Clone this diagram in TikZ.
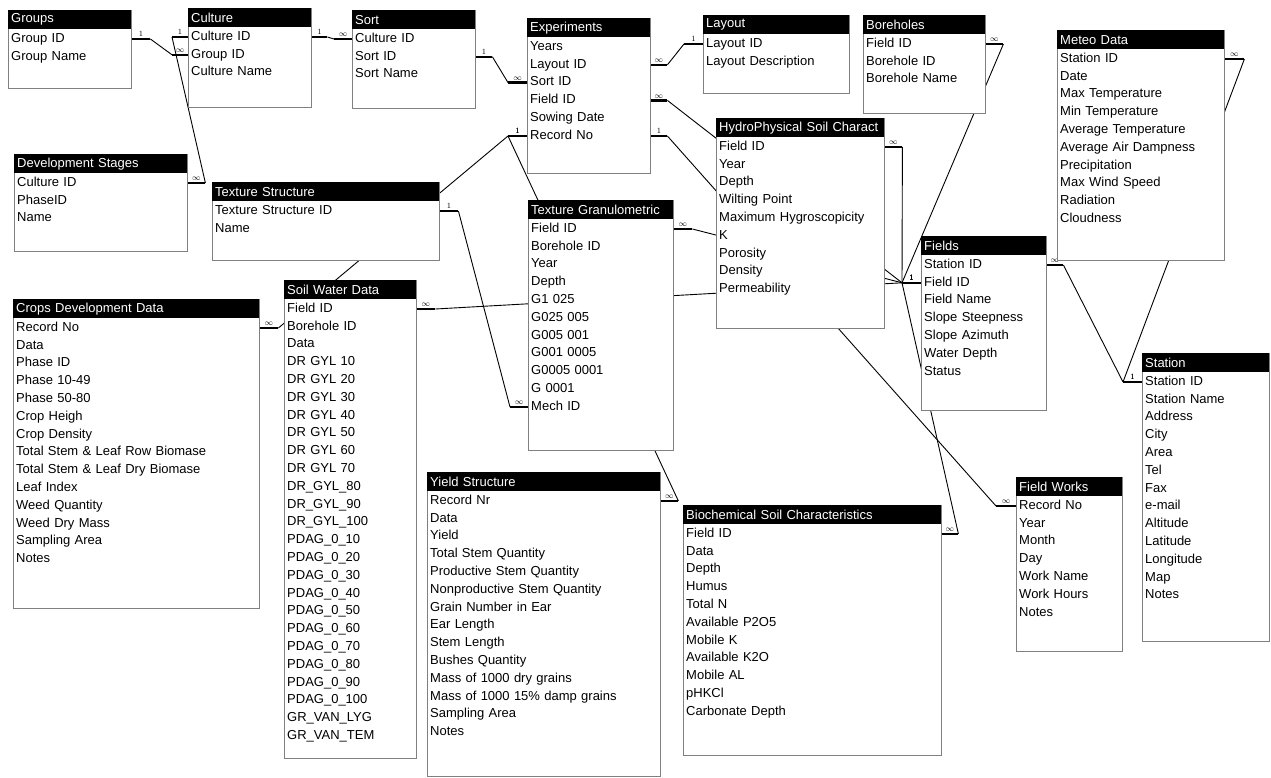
\documentclass[tikz,border=0pt]{standalone}
\usepackage{fontspec}
\setmainfont{Liberation Sans}
\usetikzlibrary{backgrounds}

\begin{document}
\begin{tikzpicture}
[x=1pt,y=-1pt,font=\fontsize{13}{14}\selectfont,
  tableBody/.style={draw=black!50,line width=1.2pt,fill=white,inner sep=0pt,anchor=north west},%
  tableHead/.style={fill=black,text=white,inner xsep=0pt,inner ysep=0pt,minimum height=19pt,anchor=north west,align=left},%
  tableField/.style={inner xsep=0pt,inner ysep=0pt,text height=9.5pt,text depth=3pt,anchor=west,align=left},%
  relStub/.style={line width=2.4pt},%
  relLine/.style={line width=0.9pt},%
  relLabel/.style={above,inner sep=1pt,font=\fontsize{8}{8}\selectfont}]
\useasboundingbox (0,0) rectangle (1271,778);
%% tables: name/x/y/width/height/title/fields
\foreach \name/\x/\y/\w/\h/\title/\fields in {
  groups/8/10/123/78/Groups/{Group ID,Group Name},
  culture/188/8/123/99/Culture/{Culture ID,Group ID,Culture Name},
  sort/352/10/123/98/Sort/{Culture ID,Sort ID,Sort Name},
  experiments/527/18/123/155/Experiments/{Years,Layout ID,Sort ID,Field ID,Sowing Date,Record No},
  layout/703/15/146/78/Layout/{Layout ID,Layout Description},
  boreholes/863/15/122/98/Boreholes/{Field ID,Borehole ID,Borehole Name},
  meteo/1057/30/167/230/Meteo Data/{Station ID,Date,Max Temperature,Min Temperature,Average Temperature,Average Air Dampness,Precipitation,Max Wind Speed,Radiation,Cloudness},
  devstages/14/154/173/97/Development Stages/{Culture ID,PhaseID,Name},
  texstruct/212/182/227/78/Texture Structure/{Texture Structure ID,Name},
  texgran/528/200/145/250/Texture Granulometric/{Field ID,Borehole ID,Year,Depth,G1 025,G025 005,G005 001,G001 0005,G0005 0001,G 0001,Mech ID},
  hydro/716/118/168/210/HydroPhysical Soil Charact/{Field ID,Year,Depth,Wilting Point,Maximum Hygroscopicity,K,Porosity,Density,Permeability},
  fields/921/236/125/174/Fields/{Station ID,Field ID,Field Name,Slope Steepness,Slope Azimuth,Water Depth,Status},
  crops/13/299/246/309/Crops Development Data/{Record No,Data,Phase ID,Phase 10-49,Phase 50-80,Crop Heigh,Crop Density,Total Stem \& Leaf Row Biomase,Total Stem \& Leaf Dry Biomase,Leaf Index,Weed Quantity,Weed Dry Mass,Sampling Area,Notes},
  soilwater/284/280/132/478/Soil Water Data/{Field ID,Borehole ID,Data,DR GYL 10,DR GYL 20,DR GYL 30,DR GYL 40,DR GYL 50,DR GYL 60,DR GYL 70,DR\_GYL\_80,DR\_GYL\_90,DR\_GYL\_100,PDAG\_0\_10,PDAG\_0\_20,PDAG\_0\_30,PDAG\_0\_40,PDAG\_0\_50,PDAG\_0\_60,PDAG\_0\_70,PDAG\_0\_80,PDAG\_0\_90,PDAG\_0\_100,GR\_VAN\_LYG,GR\_VAN\_TEM},
  yield/427/472/233/304/Yield Structure/{Record Nr,Data,Yield,Total Stem Quantity,Productive Stem Quantity,Nonproductive Stem Quantity,Grain Number in Ear,Ear Length,Stem Length,Bushes Quantity,Mass of 1000 dry grains,Mass of 1000 15\% damp grains,Sampling Area,Notes},
  biochem/683/505/258/250/Biochemical Soil Characteristics/{Field ID,Data,Depth,Humus,Total N,Available P2O5,Mobile K,Available K2O,Mobile AL,pHKCl,Carbonate Depth},
  fieldworks/1016/477/106/174/Field Works/{Record No,Year,Month,Day,Work Name,Work Hours,Notes},
  station/1142/353/127/288/Station/{Station ID,Station Name,Address,City,Area,Tel,Fax,e-mail,Altitude,Latitude,Longitude,Map,Notes}}
{
  \node[tableBody,minimum width=\w pt,minimum height=\h pt] (\name) at (\x,\y) {};
  \node[tableHead,text width=\w pt] (\name-h) at (\name.north west) {\hspace*{3pt}\title};
  \foreach \f [count=\i] in \fields
  {
    \pgfmathsetmacro{\rowy}{29+17.8*(\i-1)}
    \node[tableField,text width=\w pt] (\name-\i) at ([yshift=-\rowy pt]\name.north west) {\hspace*{3pt}\f};
  }
}
%% relationships, drawn behind the tables
\begin{scope}[on background layer]
\foreach \from/\fs/\fl/\to/\ts/\tl in {
  groups-1.east/19/1/culture-2.west/-16/\infty,
  culture-1.west/-16/1/devstages-1.east/18/\infty,
  culture-1.east/16/1/sort-1.west/-18/\infty,
  sort-2.east/17/1/experiments-3.west/-19/\infty,
  experiments-2.east/17/\infty/layout-1.west/-19/1,
  experiments-4.east/17/\infty/fields-2.west/-19/1,
  experiments-6.east/17/1/fieldworks-1.west/-20/\infty,
  experiments-6.west/-19/1/crops-1.east/19/\infty,
  experiments-6.west/-19/1/yield-1.east/18/\infty,
  texstruct-1.east/19/1/texgran-11.west/-18/\infty,
  soilwater-1.east/19/\infty/fields-2.west/-19/1,
  texgran-1.east/19/\infty/fields-2.west/-19/1,
  hydro-1.east/18/\infty/fields-2.west/-19/1,
  boreholes-1.east/18/\infty/fields-2.west/-19/1,
  biochem-1.east/17/\infty/fields-2.west/-19/1,
  meteo-1.east/20/\infty/station-1.west/-19/1,
  fields-1.east/17/\infty/station-1.west/-19/1}
{
  \draw[relStub] (\from) -- node[relLabel] {$\fl$} ++(\fs,0) coordinate (p);
  \draw[relStub] (\to) -- node[relLabel] {$\tl$} ++(\ts,0) coordinate (q);
  \draw[relLine] (p) -- (q);
};
\end{scope}
\end{tikzpicture}
\end{document}
